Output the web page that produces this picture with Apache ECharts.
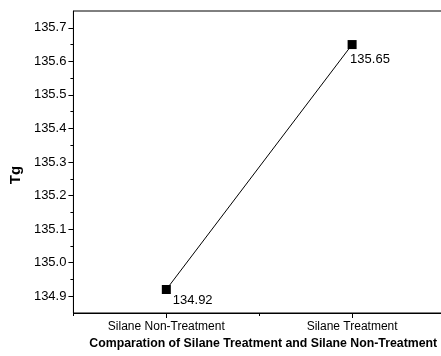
<!DOCTYPE html>
<html><head><meta charset="utf-8">
<script src="https://cdn.jsdelivr.net/npm/echarts@6/dist/echarts.min.js"></script>
<style>html,body{margin:0;padding:0;background:#fff;overflow:hidden;width:441px;height:356px}#c{width:445px;height:356px}</style>
</head><body><div id="c"></div>
<script>
// ---- data ----
const categories = ['Silane Non-Treatment', 'Silane Treatment'];
const tgValues = [134.92, 135.65];
const yTickLabels = [134.9, 135.0, 135.1, 135.2, 135.3, 135.4, 135.5, 135.6, 135.7];
const yMin = 134.85;
const yMax = 135.75;
const xTitle = 'Comparation of Silane Treatment and Silane Non-Treatment';
const yTitle = 'Tg';

// ---- styling ----
const FONT = 'Liberation Sans, Arial, sans-serif';
const labelOffsets = [[-3, 11], [-11.5, 15]];
const minorTicks = yTickLabels.map(v => +(v + 0.05).toFixed(2)).filter(v => v < yMax);

const chart = echarts.init(document.getElementById('c'), null, {renderer: 'canvas'});
chart.setOption({
  backgroundColor: '#fff',
  animation: false,
  textStyle: {fontFamily: FONT},
  grid: {left: 72, top: 11, right: 0, bottom: 43, show: true, borderColor: '#000', borderWidth: 1, backgroundColor: 'transparent'},
  xAxis: [{
    type: 'category',
    data: categories,
    boundaryGap: true,
    axisLine: {show: true, lineStyle: {color: '#000', width: 1}},
    axisTick: {show: true, alignWithLabel: true, length: 5, lineStyle: {color: '#000'}},
    axisLabel: {color: '#000', fontSize: 12, margin: 8, fontFamily: FONT},
    splitLine: {show: false},
    name: xTitle,
    nameLocation: 'middle',
    nameGap: 19,
    nameTextStyle: {fontWeight: 'bold', fontSize: 12.3, color: '#000', fontFamily: FONT, padding: [0, 0, 0, 8]}
  }, {
    type: 'category',
    data: categories,
    boundaryGap: true,
    position: 'bottom',
    axisLine: {show: false},
    axisTick: {show: true, length: 3, lineStyle: {color: '#000'}},
    axisLabel: {show: false},
    splitLine: {show: false}
  }],
  yAxis: [{
    type: 'value',
    min: yMin,
    max: yMax,
    position: 'left',
    axisLine: {show: true, lineStyle: {color: '#000', width: 1}},
    axisTick: {show: true, length: 5, customValues: yTickLabels, lineStyle: {color: '#000'}},
    axisLabel: {color: '#000', fontSize: 13, margin: 7, fontFamily: FONT, customValues: yTickLabels,
      formatter: v => Number(v).toFixed(1)},
    splitLine: {show: false},
    name: yTitle,
    nameLocation: 'middle',
    nameGap: 50,
    nameTextStyle: {fontWeight: 'bold', fontSize: 15, color: '#000', fontFamily: FONT, padding: [0, 26, 0, 0]}
  }, {
    type: 'value',
    min: yMin,
    max: yMax,
    position: 'left',
    axisLine: {show: false},
    axisTick: {show: true, length: 3, customValues: minorTicks, lineStyle: {color: '#000'}},
    axisLabel: {show: false},
    splitLine: {show: false}
  }],
  series: [{
    type: 'line',
    xAxisIndex: 0,
    yAxisIndex: 0,
    data: tgValues.map((v, i) => ({value: v, label: {offset: labelOffsets[i]}})),
    symbol: 'rect',
    symbolSize: 9,
    itemStyle: {color: '#000'},
    lineStyle: {color: '#000', width: 1},
    label: {show: true, position: 'right', color: '#000', fontSize: 13, fontFamily: FONT,
      formatter: p => p.value.toFixed(2)}
  }]
});
</script>
</body></html>
